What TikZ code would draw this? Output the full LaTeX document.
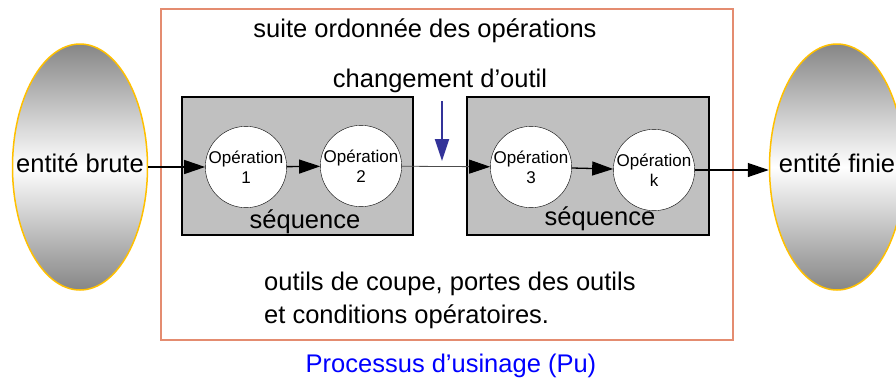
\documentclass[tikz,border=0pt]{standalone}
\usepackage{fontspec}
\setmainfont{Liberation Sans}
\usetikzlibrary{shapes.geometric,arrows.meta}
\definecolor{cadre}{RGB}{228,140,112}
\definecolor{bordure}{RGB}{255,192,0}
\definecolor{fleche}{RGB}{51,51,153}
\definecolor{boite}{RGB}{192,192,192}
\begin{document}
\begin{tikzpicture}[x=1pt,y=-1pt,
    entite/.style={ellipse, draw=bordure, line width=1.5pt, minimum width=135pt,
        minimum height=246pt, inner sep=0pt, top color=gray!95, bottom color=gray!95,
        middle color=white,
        label={[font=\fontsize{25.5}{30}\selectfont, yshift=4pt]center:#1}},
    operation/.style={circle, draw, fill=white, minimum size=79pt, inner sep=0pt,
        align=center, font=\fontsize{17}{20}\selectfont},
    sequence/.style={draw, line width=1.2pt, fill=boite, inner sep=0pt},
    texte/.style={font=\fontsize{25.5}{33}\selectfont, inner sep=0pt},
    fl/.style={-{Triangle[length=21pt,width=14pt,black]}, line width=1.3pt}
]
    \clip (0,0) rectangle (896,381);

    % Cadre du processus
    \draw[cadre, line width=2pt] (161,9) rectangle (733,340);

    % Entites brute et finie
    \node[entite=entité brute] (brute) at (80,167) {};
    \node[entite=entité finie] (finie) at (837,167) {};

    % Les deux sequences
    \node[sequence, minimum width=231pt, minimum height=138pt] (seq1) at (297.5,166) {};
    \node[sequence, minimum width=242pt, minimum height=138pt] (seq2) at (588,166) {};
    \node[texte, anchor=base] (lseq1) at (305,228) {séquence};
    \node[texte, anchor=base] (lseq2) at (600,225) {séquence};

    % Operations
    \node[operation] (op1) at (246,167) {Opération\\1};
    \node[operation] (op2) at (361,166) {Opération\\2};
    \node[operation] (op3) at (531,167) {Opération\\3};
    \node[operation] (opk) at (654,170) {Opération\\k};

    \draw[fl] (brute.east) -- (op1);
    \draw[fl] (op1) -- (op2);
    \draw[fl, line width=0.8pt, draw=black!70] (op2) -- (op3);
    \draw[fl] (op3) -- (opk);
    \draw[fl] (opk.east) -- (opk.east -| finie.west);

    % Changement d'outil
    \coordinate (haut) at (442,101);
    \coordinate (bas) at (442,161);
    \draw[fleche, line width=2pt, -{Triangle[length=22pt,width=14pt]}] (haut) -- (bas);

    % Textes
    \node[texte, anchor=base] (titre) at (425,37) {suite ordonnée des opérations};
    \node[texte, anchor=west, align=left] (outils) at (264,300)
        {outils de coupe, portes des outils\\et conditions opératoires.};
    \node[texte, anchor=base] (chgt) at (440,87) {changement d’outil};
    \node[texte, anchor=base, blue] (pu) at (451,372) {Processus d’usinage (Pu)};
\end{tikzpicture}
\end{document}
